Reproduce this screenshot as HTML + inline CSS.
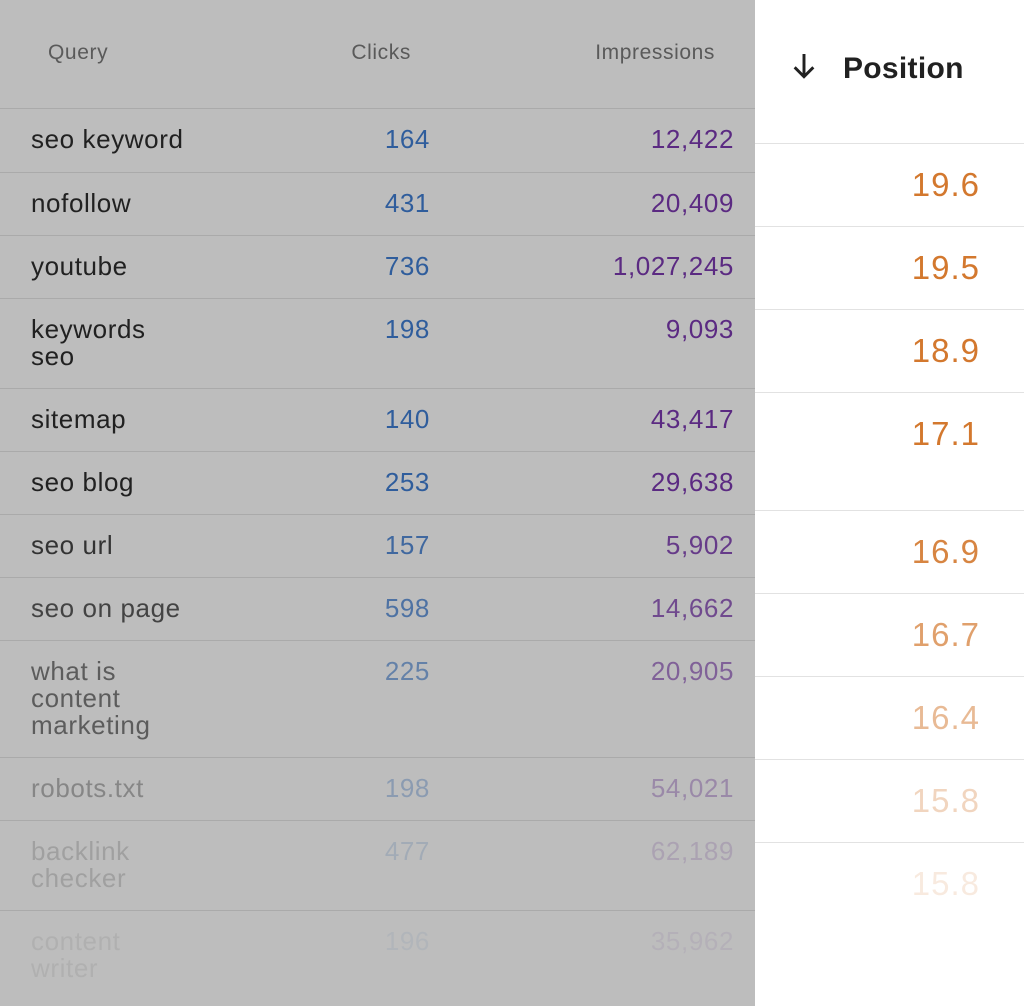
<!DOCTYPE html>
<html><head><meta charset="utf-8"><style>
body{margin:0;width:1024px;height:1006px;overflow:hidden;background:#fff;font-family:"Liberation Sans",Roboto,sans-serif;position:relative}
#left{position:absolute;left:0;top:0;width:755px;height:1006px;background:#bdbdbd}
.hd{position:absolute;font-size:21px;color:#5a5a5a;top:40px;line-height:26px;letter-spacing:0.6px}
.row{position:absolute;left:0;width:755px;border-top:1px solid #aaaaaa}
.row div{position:absolute;top:17px;font-size:26px;line-height:27px;letter-spacing:0.6px}
.q{left:31px;color:#212121}
.c{right:325px;color:#2f5d9c;text-align:right}
.i{right:21px;color:#5b2a82;text-align:right}
.prow{position:absolute;left:755px;width:269px;border-top:1px solid #e2e2e2}
.prow div{position:absolute;right:44px;top:24px;font-size:33px;line-height:34px;color:#d3782e;letter-spacing:1px}
</style></head><body>
<div id="left">
<div class="hd" style="left:48px">Query</div>
<div class="hd" style="right:344px">Clicks</div>
<div class="hd" style="right:40px">Impressions</div>
</div>
<div style="position:absolute;left:788px;top:50px;font-size:30px;font-weight:bold;color:#212121;line-height:36px;letter-spacing:0.3px">
<svg width="32" height="32" viewBox="0 0 24 24" style="vertical-align:-4px;margin-right:23px"><path d="M12 3v17M5 13l7 7 7-7" stroke="#212121" stroke-width="2.2" fill="none"/></svg>Position</div>
<script>
const queries=["seo keyword","nofollow","youtube","keywords<br>seo","sitemap","seo blog","seo url","seo on page","what is<br>content<br>marketing","robots.txt","backlink<br>checker","content<br>writer"];
const clicks=["164","431","736","198","140","253","157","598","225","198","477","196"];
const impressions=["12,422","20,409","1,027,245","9,093","43,417","29,638","5,902","14,662","20,905","54,021","62,189","35,962"];
const rowTops=[108,172,235,298,388,451,514,577,640,757,820,910];
const rowOp=[1,1,1,1,1,1,0.88,0.78,0.62,0.35,0.18,0.08];
const positions=["19.6","19.5","18.9","17.1","16.9","16.7","16.4","15.8","15.8"];
const pTops=[143,226,309,392,510,593,676,759,842];
const pOp=[1,1,1,1,0.9,0.7,0.5,0.3,0.15];
const L=document.getElementById('left');
queries.forEach((q,k)=>{
 const r=document.createElement('div');r.className='row';r.style.top=rowTops[k]+'px';
 
 
 r.innerHTML='<div class="q" style="opacity:'+rowOp[k]+'">'+q+'</div><div class="c" style="opacity:'+rowOp[k]+'">'+clicks[k]+'</div><div class="i" style="opacity:'+rowOp[k]+'">'+impressions[k]+'</div>';
 L.appendChild(r);
});
positions.forEach((p,k)=>{
 const r=document.createElement('div');r.className='prow';r.style.top=pTops[k]+'px';
 
 
 r.innerHTML='<div style="opacity:'+pOp[k]+'">'+p+'</div>';
 document.body.appendChild(r);
});
</script>
</body></html>
